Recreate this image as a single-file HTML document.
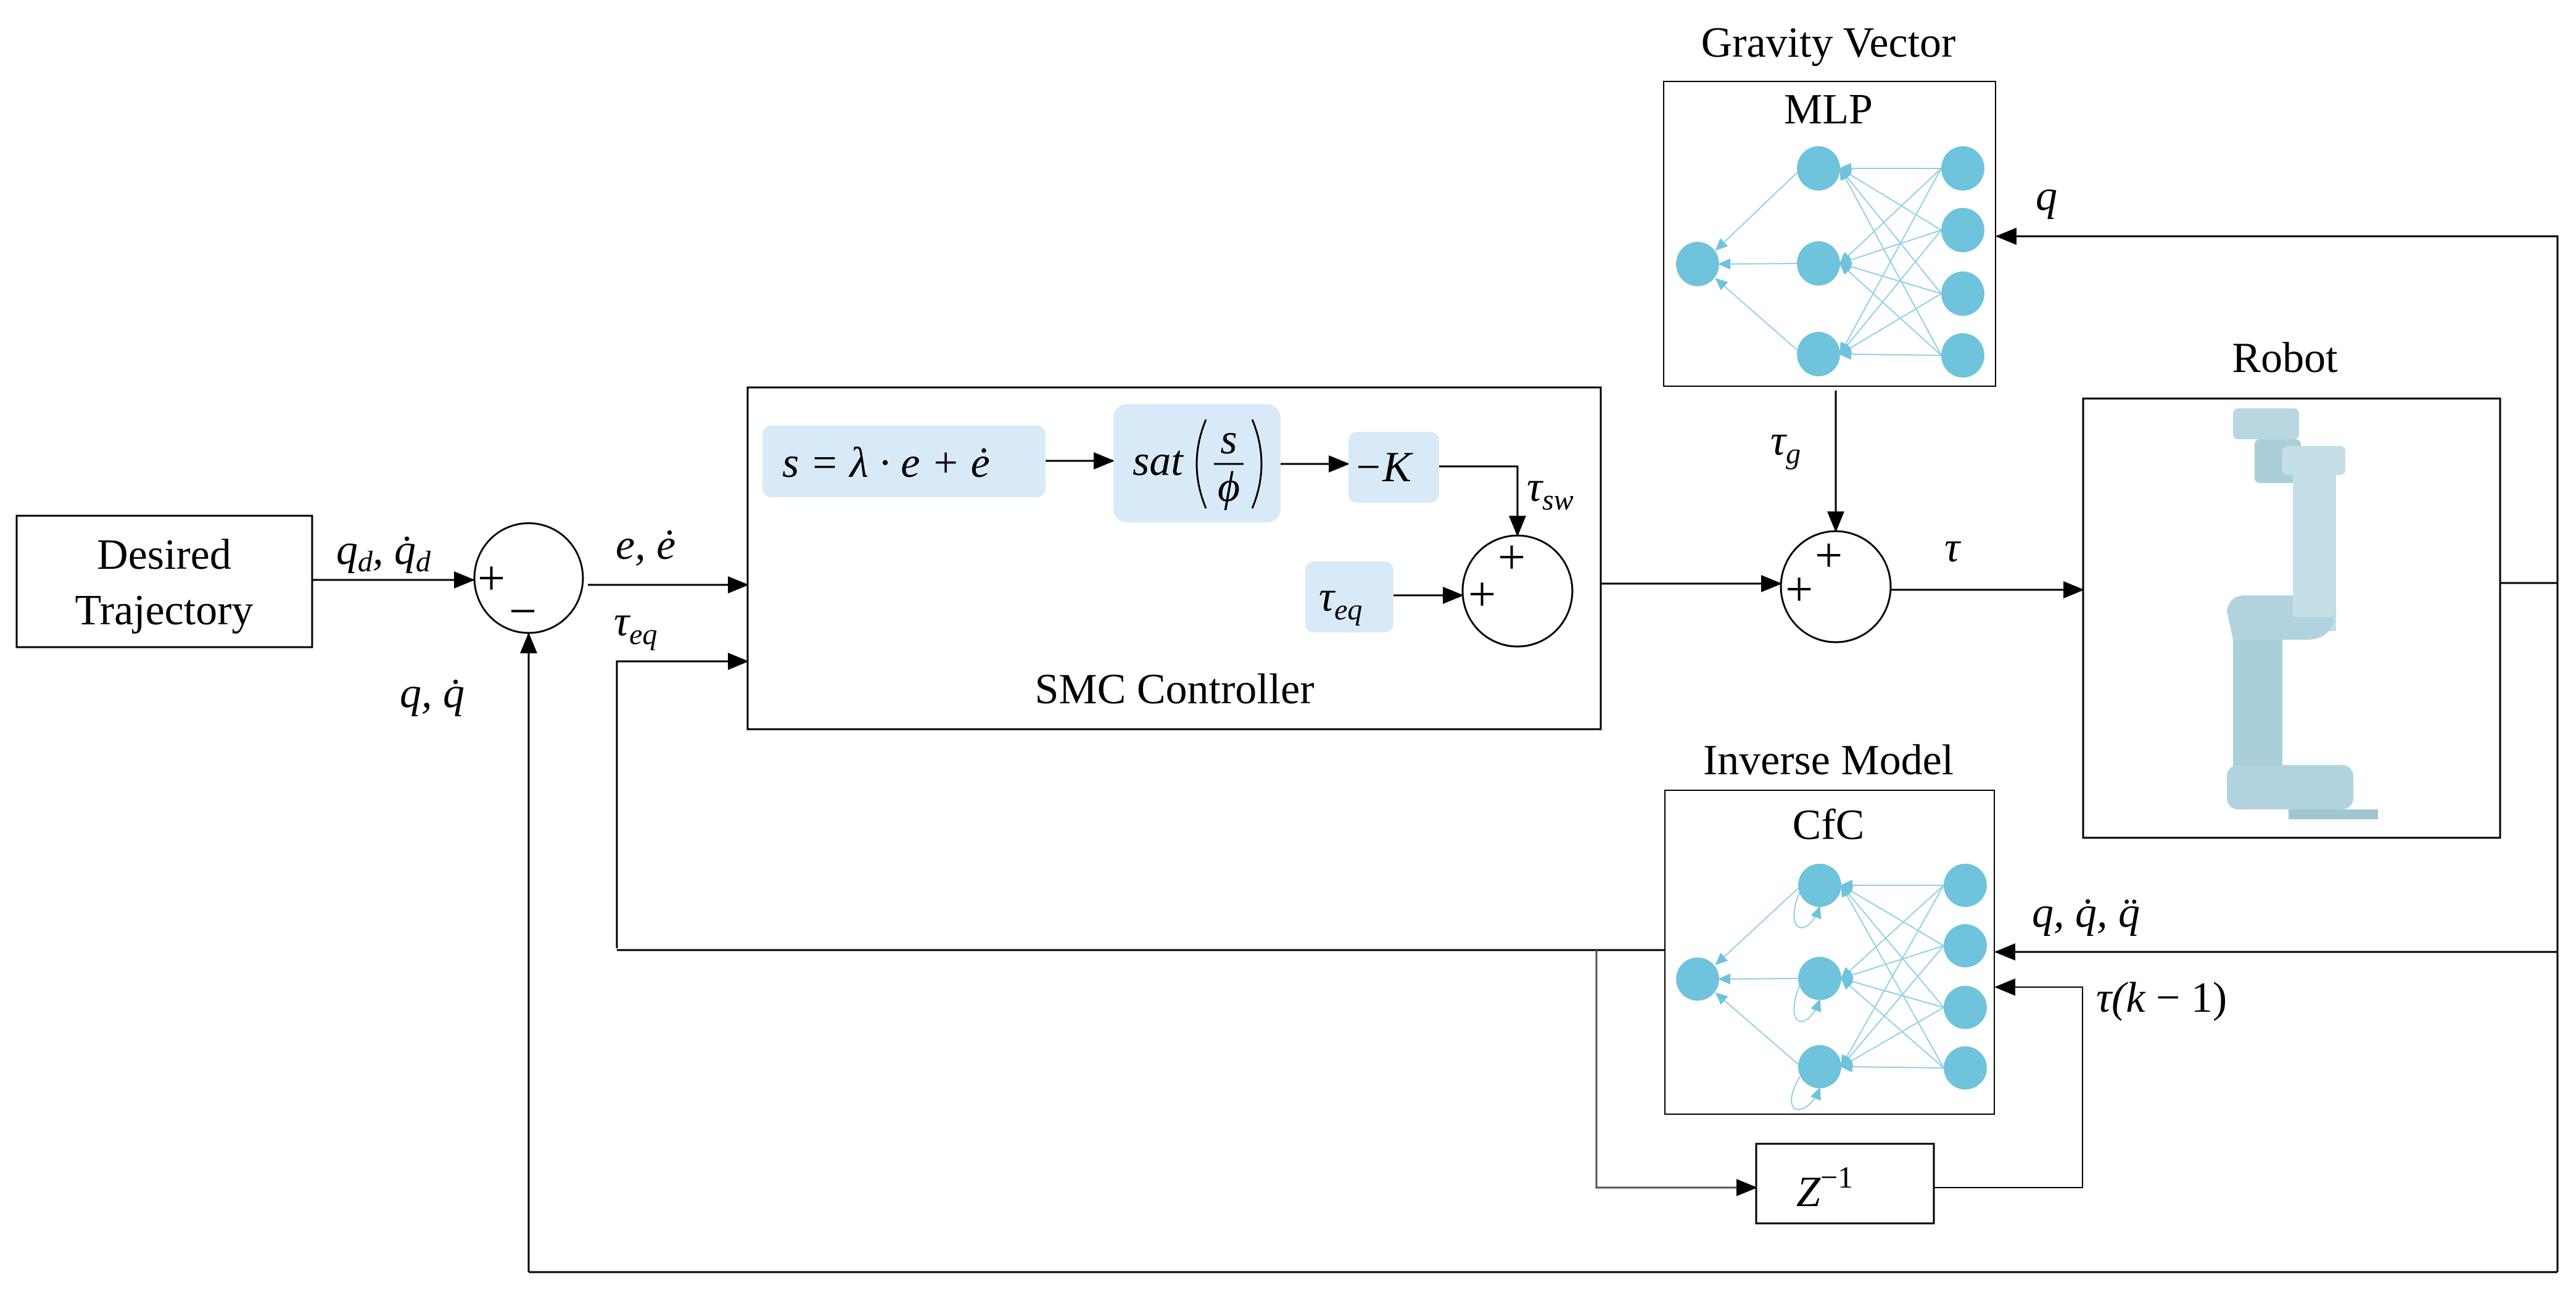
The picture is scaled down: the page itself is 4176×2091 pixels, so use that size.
<!DOCTYPE html>
<html><head><meta charset="utf-8"><style>
html,body{margin:0;padding:0;background:#fff}
svg{display:block}
text{font-family:"Liberation Serif",serif;fill:#000}
.m{font-style:italic;font-size:70px}
.t{font-size:70px}
</style></head><body>
<svg width="4176" height="2091" viewBox="0 0 4176 2091" xmlns="http://www.w3.org/2000/svg">
<defs>
<marker id="a" markerWidth="34" markerHeight="28" refX="32" refY="14" orient="auto" markerUnits="userSpaceOnUse"><path d="M0,0 L34,14 L0,28 z" fill="#000"/></marker>
<marker id="b" markerWidth="20" markerHeight="18" refX="18" refY="9" orient="auto" markerUnits="userSpaceOnUse"><path d="M0,0 L20,9 L0,18 z" fill="#6fc3dc"/></marker>
</defs>
<g fill="none" stroke="#000" stroke-width="3">
<rect x="27" y="836" width="479" height="213"/>
<ellipse cx="857" cy="937" rx="88" ry="89"/>
<rect x="1212" y="628" width="1383" height="554"/>
<ellipse cx="2460" cy="958" rx="89" ry="90"/>
<ellipse cx="2976" cy="951" rx="89" ry="90"/>
<rect x="2697" y="132" width="538" height="494" stroke-width="2"/>
<rect x="2699" y="1281" width="534" height="525" stroke-width="2"/>
<rect x="3377" y="646" width="676" height="712"/>
<rect x="2847" y="1854" width="288" height="129"/>
<line x1="506" y1="940" x2="768" y2="940" marker-end="url(#a)"/>
<line x1="953" y1="948" x2="1212" y2="948" marker-end="url(#a)"/>
<polyline points="1000,1537 1000,1072 1212,1072" marker-end="url(#a)"/>
<polyline points="857,2062 857,1027" marker-end="url(#a)"/>
<line x1="1695" y1="747" x2="1805" y2="747" marker-end="url(#a)"/>
<line x1="2076" y1="752" x2="2186" y2="752" marker-end="url(#a)"/>
<polyline points="2333,756 2460,756 2460,868" marker-end="url(#a)"/>
<line x1="2259" y1="965" x2="2371" y2="965" marker-end="url(#a)"/>
<line x1="2595" y1="946" x2="2887" y2="946" marker-end="url(#a)"/>
<line x1="2976" y1="633" x2="2976" y2="861" marker-end="url(#a)"/>
<line x1="3066" y1="956" x2="3377" y2="956" marker-end="url(#a)"/>
<polyline points="4053,945 4146,945"/>
<polyline points="4146,2062 4146,383 3237,383" marker-end="url(#a)"/>
<polyline points="4146,1543 3235,1543" marker-end="url(#a)"/>
<polyline points="2699,1540 1000,1540"/>
<polyline points="2588,1540 2588,1925 2847,1925" marker-end="url(#a)" stroke="#555"/>
<polyline points="3135,1925 3376,1925 3376,1600 3235,1600" marker-end="url(#a)" stroke-width="2"/>
<line x1="857" y1="2062" x2="4146" y2="2062"/>
</g>
<g fill="#d8eaf7">
<rect x="1236" y="690" width="459" height="116" rx="14"/>
<rect x="1805" y="655" width="271" height="192" rx="22"/>
<rect x="2186" y="700" width="147" height="115" rx="14"/>
<rect x="2116" y="910" width="143" height="115" rx="14"/>
</g>
<text class="t" x="266" y="922" text-anchor="middle">Desired</text>
<text class="t" x="266" y="1012" text-anchor="middle">Trajectory</text>
<text class="m" x="545" y="914">q<tspan font-size="48" dy="12">d</tspan><tspan dy="-12">, q̇</tspan><tspan font-size="48" dy="12">d</tspan></text>
<text x="774" y="964" font-size="80">+</text>
<text x="825" y="1017" font-size="80">−</text>
<text class="m" x="998" y="906">e, ė</text>
<text class="m" x="995" y="1030">τ<tspan font-size="48" dy="14">eq</tspan></text>
<text class="m" x="648" y="1146">q, q̇</text>
<text class="m" x="1268" y="773" font-size="72">s = λ · e + ė</text>
<text class="m" x="1836" y="770" font-size="56">sat</text>
<path d="M1955,680 Q1925,752 1955,824 M2030,680 Q2060,752 2030,824" fill="none" stroke="#000" stroke-width="3"/>
<text class="m" x="1992" y="735" font-size="50" text-anchor="middle">s</text>
<line x1="1968" y1="752" x2="2016" y2="752" stroke="#000" stroke-width="3"/>
<text class="m" x="1992" y="812" font-size="50" text-anchor="middle">ϕ</text>
<text class="m" x="2194" y="780" font-size="70">−K</text>
<text class="m" x="2475" y="812">τ<tspan font-size="48" dy="14">sw</tspan></text>
<text class="m" x="2138" y="990">τ<tspan font-size="48" dy="14">eq</tspan></text>
<text x="2380" y="990" font-size="80">+</text>
<text x="2428" y="930" font-size="80">+</text>
<text class="t" x="1904" y="1140" text-anchor="middle">SMC Controller</text>
<text class="t" x="2964" y="92" text-anchor="middle">Gravity Vector</text>
<text class="t" x="2964" y="200" text-anchor="middle">MLP</text>
<text class="m" x="2870" y="737">τ<tspan font-size="48" dy="14">g</tspan></text>
<text x="2894" y="982" font-size="80">+</text>
<text x="2942" y="927" font-size="80">+</text>
<text class="m" x="3152" y="910">τ</text>
<text class="m" x="3300" y="340">q</text>
<text class="t" x="3704" y="603" text-anchor="middle">Robot</text>
<text class="t" x="2964" y="1255" text-anchor="middle">Inverse Model</text>
<text class="t" x="2964" y="1360" text-anchor="middle">CfC</text>
<text class="m" x="3294" y="1502">q, q̇, q̈</text>
<text class="m" x="3398" y="1640">τ(k <tspan font-style="normal">− 1)</tspan></text>
<text class="m" x="2912" y="1955" font-size="72">Z<tspan font-size="50" dy="-30" font-style="normal">−1</tspan></text>
<g stroke="#8fd0e4" stroke-width="2" marker-end="url(#b)">
<line x1="3147" y1="273" x2="2983" y2="273"/><line x1="3147" y1="273" x2="2983" y2="427"/><line x1="3147" y1="273" x2="2983" y2="574"/>
<line x1="3147" y1="373" x2="2983" y2="273"/><line x1="3147" y1="373" x2="2983" y2="427"/><line x1="3147" y1="373" x2="2983" y2="574"/>
<line x1="3147" y1="476" x2="2983" y2="273"/><line x1="3147" y1="476" x2="2983" y2="427"/><line x1="3147" y1="476" x2="2983" y2="574"/>
<line x1="3147" y1="576" x2="2983" y2="273"/><line x1="3147" y1="576" x2="2983" y2="427"/><line x1="3147" y1="576" x2="2983" y2="574"/>
<line x1="2913" y1="280" x2="2782" y2="405"/><line x1="2913" y1="427" x2="2787" y2="428"/><line x1="2913" y1="567" x2="2782" y2="452"/>
</g>
<g fill="#6fc3dc">
<ellipse cx="2752" cy="428" rx="35" ry="36"/>
<ellipse cx="2948" cy="273" rx="35" ry="36"/><ellipse cx="2948" cy="427" rx="35" ry="36"/><ellipse cx="2948" cy="574" rx="35" ry="36"/>
<ellipse cx="3182" cy="273" rx="35" ry="36"/><ellipse cx="3182" cy="373" rx="35" ry="36"/><ellipse cx="3182" cy="476" rx="35" ry="36"/><ellipse cx="3182" cy="576" rx="35" ry="36"/>
</g>
<g stroke="#8fd0e4" stroke-width="2" fill="none" marker-end="url(#b)">
<line x1="3151" y1="1435" x2="2985" y2="1435"/><line x1="3151" y1="1435" x2="2985" y2="1586"/><line x1="3151" y1="1435" x2="2985" y2="1729"/>
<line x1="3151" y1="1533" x2="2985" y2="1435"/><line x1="3151" y1="1533" x2="2985" y2="1586"/><line x1="3151" y1="1533" x2="2985" y2="1729"/>
<line x1="3151" y1="1633" x2="2985" y2="1435"/><line x1="3151" y1="1633" x2="2985" y2="1586"/><line x1="3151" y1="1633" x2="2985" y2="1729"/>
<line x1="3151" y1="1731" x2="2985" y2="1435"/><line x1="3151" y1="1731" x2="2985" y2="1586"/><line x1="3151" y1="1731" x2="2985" y2="1729"/>
<line x1="2915" y1="1440" x2="2782" y2="1563"/><line x1="2915" y1="1586" x2="2787" y2="1587"/><line x1="2915" y1="1725" x2="2782" y2="1610"/>
<path d="M2918,1445 C2890,1510 2930,1525 2950,1470"/>
<path d="M2918,1596 C2890,1665 2930,1675 2950,1621"/>
<path d="M2918,1745 C2880,1810 2930,1815 2950,1764"/>
</g>
<g fill="#6fc3dc">
<ellipse cx="2752" cy="1587" rx="35" ry="35"/>
<ellipse cx="2950" cy="1435" rx="35" ry="35"/><ellipse cx="2950" cy="1586" rx="35" ry="35"/><ellipse cx="2950" cy="1729" rx="35" ry="35"/>
<ellipse cx="3186" cy="1435" rx="35" ry="35"/><ellipse cx="3186" cy="1533" rx="35" ry="35"/><ellipse cx="3186" cy="1633" rx="35" ry="35"/><ellipse cx="3186" cy="1731" rx="35" ry="35"/>
</g>
<g fill="#b9d7e0">
<rect x="3620" y="662" width="107" height="50" rx="8"/>
<rect x="3655" y="712" width="75" height="71" rx="8" fill="#aacfdb"/>
<rect x="3700" y="723" width="102" height="47" rx="8" fill="#c4dfe6"/>
<rect x="3717" y="723" width="70" height="300" fill="#c4dfe6"/>
<path d="M3717,1000 L3787,1000 L3787,980 Q3787,1037 3740,1037 L3620,1037 L3610,990 Q3615,965 3640,965 L3717,965 z" fill="#b1d3dd"/>
<rect x="3620" y="1037" width="80" height="208" fill="#a9cfda"/>
<rect x="3610" y="1240" width="205" height="72" rx="18" fill="#b1d3dd"/>
<rect x="3710" y="1312" width="145" height="16" fill="#a0c6d2"/>
</g>
</svg>
</body></html>
